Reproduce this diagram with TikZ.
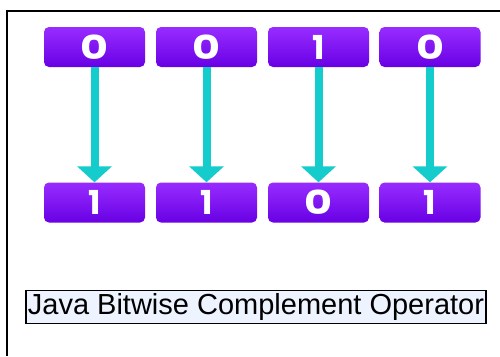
\documentclass[tikz,border=0pt]{standalone}
\usepackage{fontspec}
\setmainfont{Liberation Sans}
\newfontfamily\digitfont{Poppins}[FontFace={eb}{n}{Poppins ExtraBold}]
\usetikzlibrary{arrows.meta}
\definecolor{bitTop}{RGB}{152,44,255}
\definecolor{bitBot}{RGB}{104,0,228}
\definecolor{flow}{RGB}{20,204,204}
\definecolor{capfill}{RGB}{238,244,255}
\newcommand{\wideglyph}[1]{\scalebox{1.3}[1]{#1}}
\tikzset{
  bitbox/.style={rounded corners=5pt, minimum width=101pt, minimum height=40pt,
    top color=bitTop, bottom color=bitBot, draw=none, inner sep=0pt,
    text=white, font=\digitfont\bfseries\fontsize{33}{33}\selectfont},
  flipline/.style={draw=flow, line width=8pt,
    -{Triangle[width=34pt,length=16pt]}, shorten >=0pt},
  caption/.style={draw=black, line width=1.5pt, fill=capfill, inner xsep=2pt,
    inner ysep=3pt, font=\fontsize{29}{29}\selectfont, text=black},
  frame/.style={draw=black, line width=2pt}
}
\begin{document}
\begin{tikzpicture}[x=1pt,y=-1pt]
  \useasboundingbox (0,0) rectangle (500,356);
  % frame
  \coordinate (fl) at (6.5,356);
  \coordinate (fc) at (6.5,11);
  \coordinate (fr) at (500,11);
  \draw[frame] (fl) -- (fc) -- (fr);
  % input bits
  \node[bitbox] (t1) at (94.5,47) {\wideglyph{0}};
  \node[bitbox] (t2) at (206.5,47) {\wideglyph{0}};
  \node[bitbox] (t3) at (318.5,47) {1};
  \node[bitbox] (t4) at (430,47) {\wideglyph{0}};
  % complemented bits
  \node[bitbox] (b1) at (94.5,202.5) {1};
  \node[bitbox] (b2) at (206.5,202.5) {1};
  \node[bitbox] (b3) at (318.5,202.5) {\wideglyph{0}};
  \node[bitbox] (b4) at (430,202.5) {1};
  % arrows
  \foreach \i in {1,...,4}
    \draw[flipline] (t\i.south) -- (b\i.north);
  % caption
  \node[caption] (cap) at (256,307) {Java Bitwise Complement Operator};
\end{tikzpicture}
\end{document}
